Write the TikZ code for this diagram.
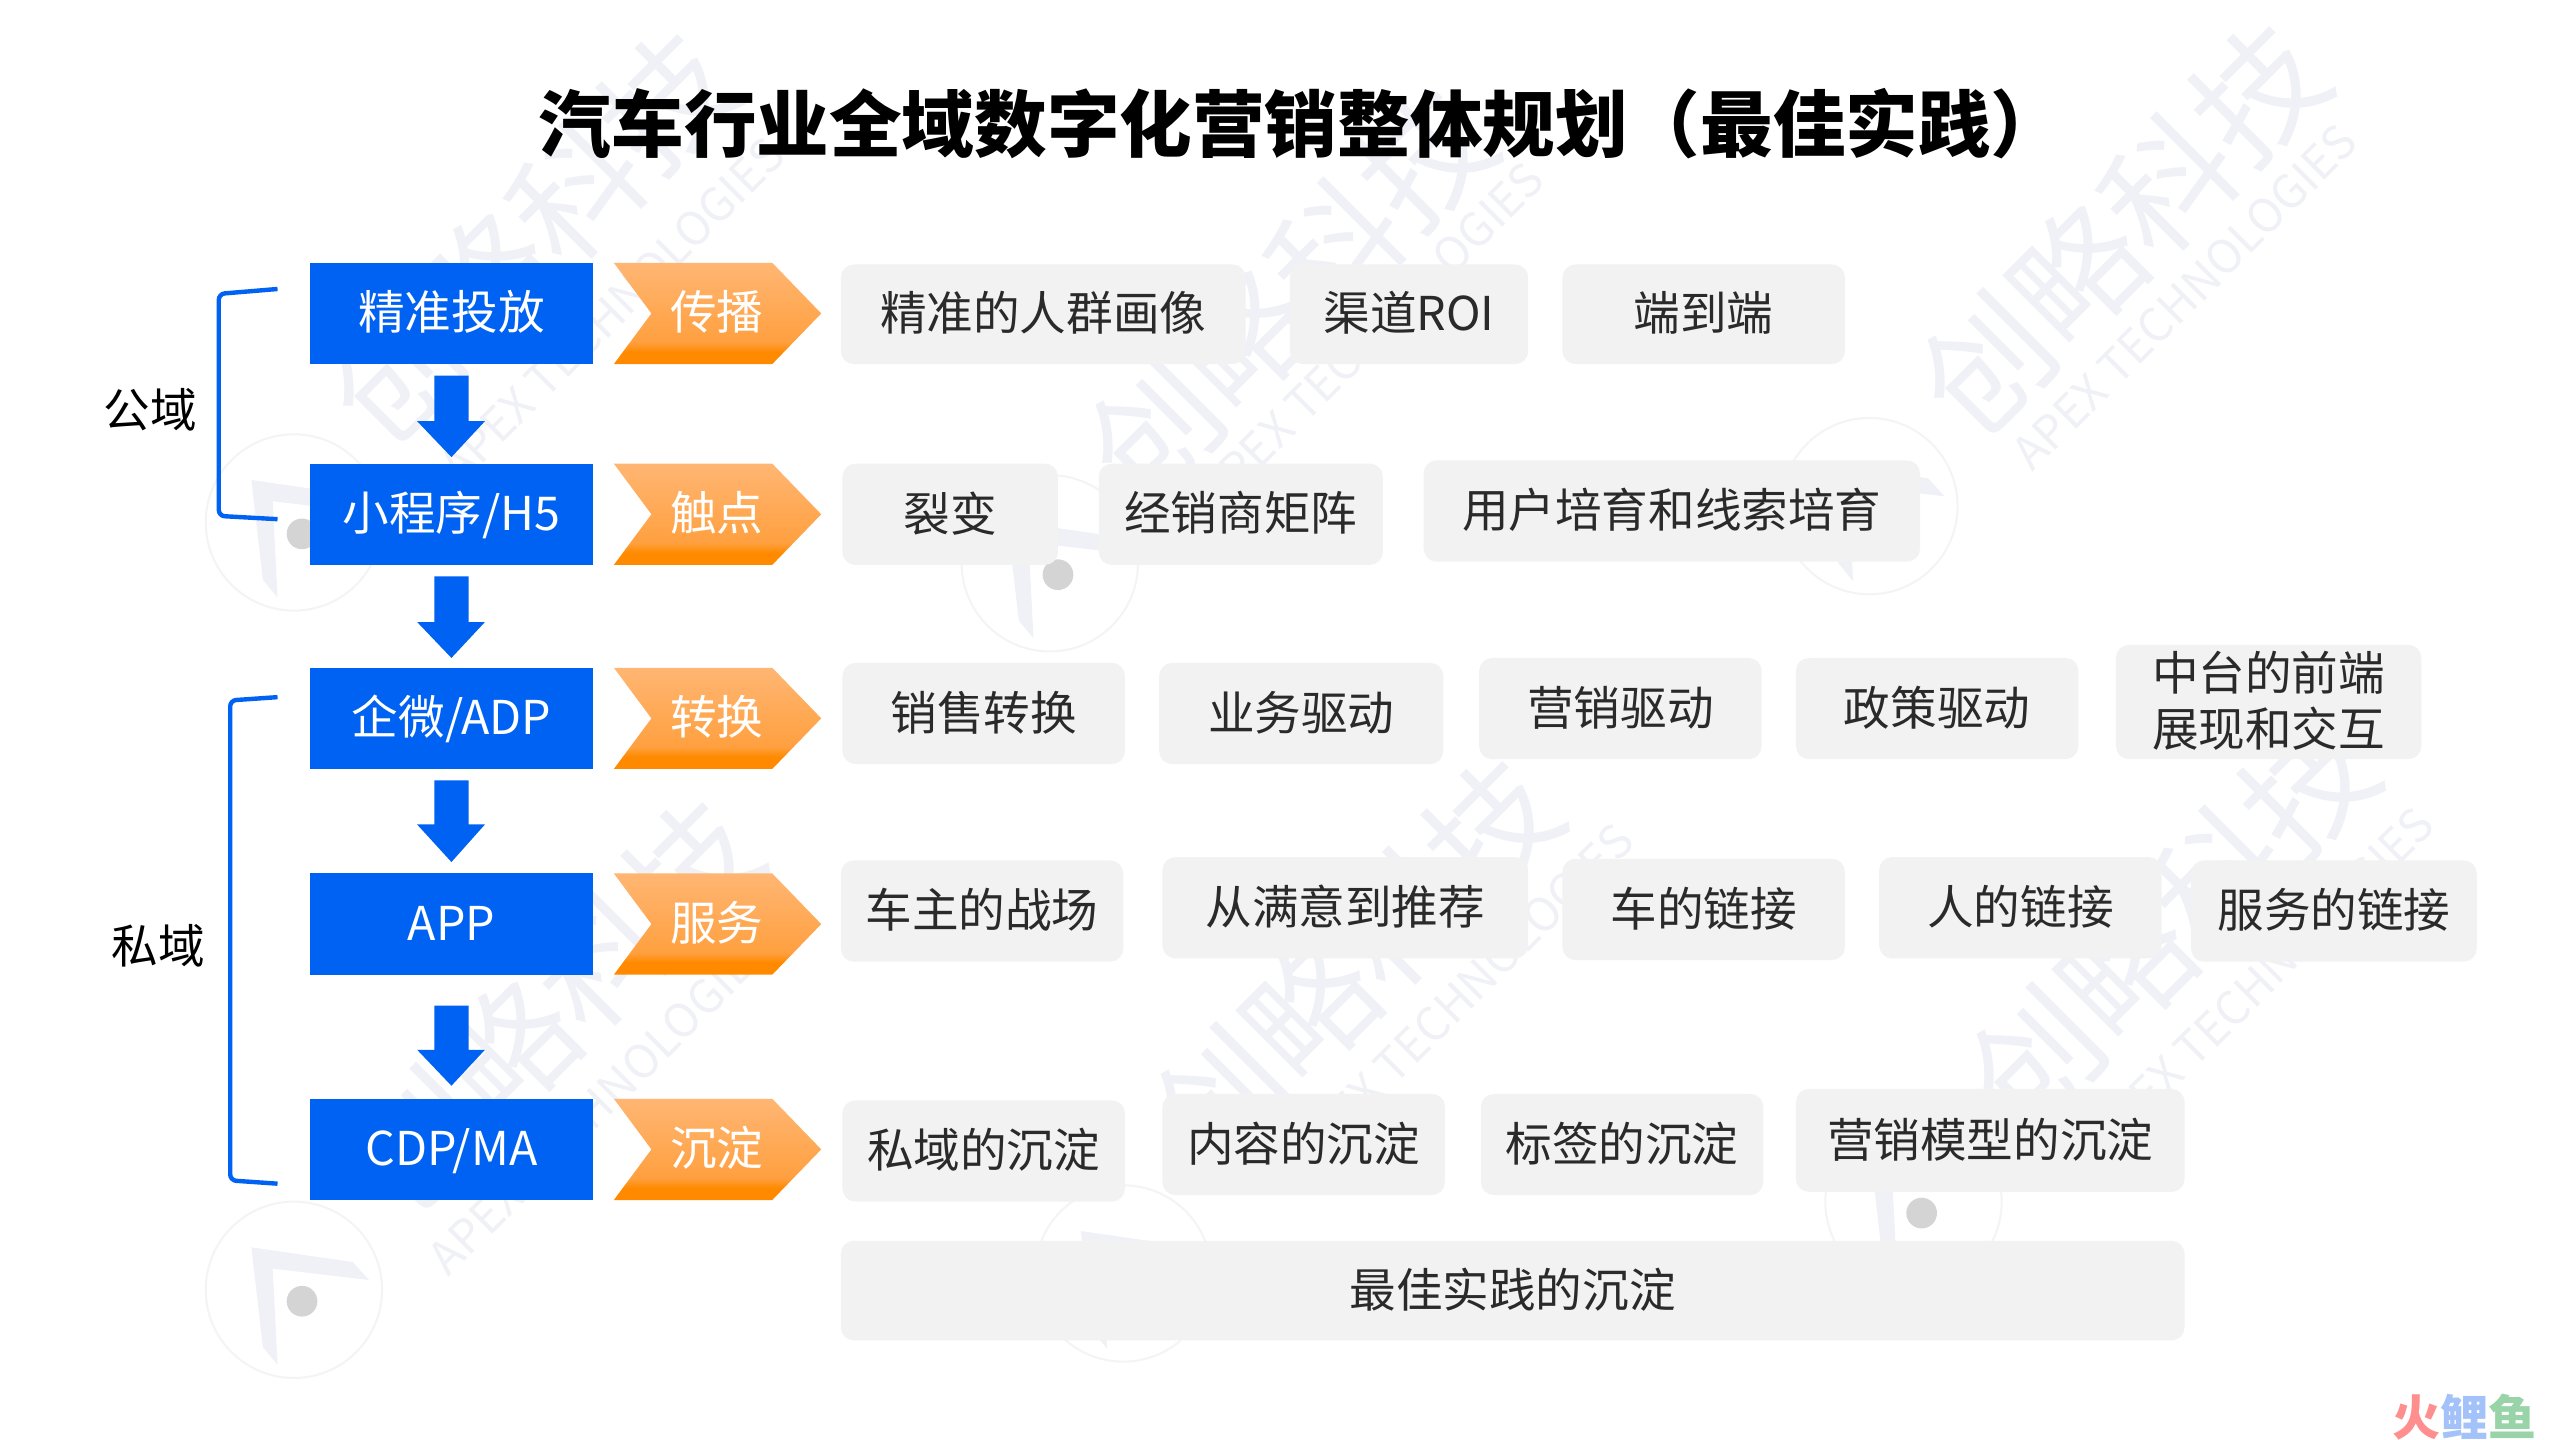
\documentclass[tikz,border=0pt]{standalone}
\usepackage{fontspec}
\setmainfont{Noto Sans CJK SC}
\definecolor{bluebox}{HTML}{0062F2}
\definecolor{chip}{HTML}{F2F2F3}
\definecolor{ink}{HTML}{2A2A2A}
\definecolor{wm}{HTML}{F0F1F6}
\definecolor{wmc}{HTML}{F4F4F4}
\definecolor{orangetop}{HTML}{FFB673}
\definecolor{orangemid}{HTML}{FFA040}
\definecolor{orangebot}{HTML}{FF8A00}
\pgfdeclareverticalshading{chevshade}{100bp}{color(0bp)=(orangebot); color(25bp)=(orangebot); color(31bp)=(orangebot); color(36bp)=(orangemid); color(75bp)=(orangetop); color(100bp)=(orangetop)}
\tikzset{
 x=0.81633pt,y=-0.81633pt,
 bluefill/.style={fill=bluebox,draw=none},
 lab/.style={font=\fontsize{23.3}{28}\selectfont,text=white,inner sep=0,anchor=base},
 chiptxt/.style={font=\fontsize{23.3}{28}\selectfont,text=ink,inner sep=0,align=center},
 brk/.style={draw=bluebox,line width=2.2pt,rounded corners=3pt},
 wmbig/.style={font=\fontsize{64}{70}\selectfont,text=wm,inner sep=0,rotate=45},
 wmsm/.style={font=\fontsize{23}{26}\selectfont,text=wm,inner sep=0,rotate=45},
}
\newcommand{\chipbox}[6]{%
 \fill[chip,rounded corners=6.5pt] (#2,#3) rectangle (#4,#5);
 \node[chiptxt] (#1) at ({(#2+#4)/2},{(#3+#5)/2-0.7}) {#6};}
\newcommand{\rowitem}[4]{%
 \fill[bluefill] (190,#2) rectangle (363,#2+62);
 \node[lab] (b#1) at (276.5,#2+41) {#3};
 \shade[shading=chevshade]
  (376,#2) -- (473,#2) -- (503,#2+31) -- (473,#2+62) -- (376,#2+62) -- (399,#2+31) -- cycle;
 \node[lab] (c#1) at (439,#2+41) {#4};}
\newcommand{\flowarrow}[3]{%
 \fill[bluefill] (266,#1) -- (287,#1) -- (287,#2) -- (297,#2) -- (276.5,#3) -- (255.5,#2) -- (266,#2) -- cycle;}
\newcommand{\wmark}[5]{%
 \node[wmbig] (wa#1) at (#2,#3) {创略科技};
 \node[wmsm] (wb#1) at (#4,#5) {APEX TECHNOLOGIES};}
\newcommand{\wmlogo}[3]{%
 \draw[wmc,line width=1pt] (#2,#3) circle[radius=54];
 \fill[wm] (#2-26,#3-26) -- (#2+36,#3-17) -- (#2+46,#3-6) -- (#2-13,#3-13) -- (#2-10,#3+46) -- (#2-19,#3+35) -- cycle;
 \fill[black!17] (#2+5,#3+7) circle[radius=9.4];
 \coordinate (lg#1) at (#2,#3);}
\begin{document}
\begin{tikzpicture}
\useasboundingbox (0,0) rectangle (1568,882);
\fill[white] (0,0) rectangle (1568,882);
% watermarks
\wmark{1}{1300}{140}{1338}{182}
\wmark{2}{790}{180}{840}{205}
\wmark{3}{325}{145}{375}{190}
\wmark{4}{830}{590}{895}{610}
\wmark{5}{340}{615}{368}{675}
\wmark{6}{1330}{565}{1385}{600}
\wmlogo{1}{180}{320}
\wmlogo{2}{643}{345}
\wmlogo{3}{1145}{310}
\wmlogo{4}{180}{790}
\wmlogo{5}{688}{780}
\wmlogo{6}{1172}{736}
% title
\node[inner sep=0,font=\fontsize{36.3}{40}\bfseries\selectfont,text=black] (title) at (797,76) {汽车行业全域数字化营销整体规划（最佳实践）};
% brackets
\coordinate (a1) at (170,177); \coordinate (a2) at (134,180); \coordinate (a3) at (134,316); \coordinate (a4) at (170,318);
\draw[brk] (a1) -- (a2) -- (a3) -- (a4);
\coordinate (p1) at (170,427); \coordinate (p2) at (141,429); \coordinate (p3) at (141,723); \coordinate (p4) at (170,725);
\draw[brk] (p1) -- (p2) -- (p3) -- (p4);
\node[chiptxt,text=black] (gong) at (92,251) {公域};
\node[chiptxt,text=black] (si) at (97,579) {私域};
% rows
\rowitem{1}{161}{精准投放}{传播}
\rowitem{2}{284}{小程序/H5}{触点}
\rowitem{3}{409}{企微/ADP}{转换}
\rowitem{4}{535}{APP}{服务}
\rowitem{5}{673}{CDP/MA}{沉淀}
\flowarrow{230}{258}{280}
\flowarrow{353}{381}{403}
\flowarrow{478}{505}{528}
\flowarrow{616}{643}{665}
% chips
\chipbox{a}{515}{162}{763}{223}{精准的人群画像}
\chipbox{b}{790}{162}{936}{223}{渠道ROI}
\chipbox{c}{957}{162}{1130}{223}{端到端}
\chipbox{d}{516}{284}{648}{346}{裂变}
\chipbox{e}{673}{284}{847}{346}{经销商矩阵}
\chipbox{f}{872}{282}{1176}{344}{用户培育和线索培育}
\chipbox{g}{516}{406}{689}{468}{销售转换}
\chipbox{h}{710}{406}{884}{468}{业务驱动}
\chipbox{i}{906}{403}{1079}{465}{营销驱动}
\chipbox{j}{1100}{403}{1273}{465}{政策驱动}
\chipbox{k}{1296}{395}{1483}{465}{中台的前端\\展现和交互}
\chipbox{l}{515}{527}{688}{589}{车主的战场}
\chipbox{m}{712}{525}{936}{587}{从满意到推荐}
\chipbox{n}{957}{526}{1130}{588}{车的链接}
\chipbox{o}{1151}{525}{1324}{587}{人的链接}
\chipbox{q}{1342}{527}{1517}{589}{服务的链接}
\chipbox{r}{516}{674}{689}{736}{私域的沉淀}
\chipbox{s}{712}{670}{885}{732}{内容的沉淀}
\chipbox{t}{907}{670}{1080}{732}{标签的沉淀}
\chipbox{u}{1100}{667}{1338}{730}{营销模型的沉淀}
\chipbox{v}{515}{760}{1338}{821}{最佳实践的沉淀}
% corner mark
\node[inner sep=0,font=\fontsize{24}{26}\bfseries\selectfont,anchor=east] (mark) at (1554,868) {\textcolor[HTML]{FF8E8E}{火}\textcolor[HTML]{A4C2FA}{鲤}\textcolor[HTML]{98D4A8}{鱼}};
\end{tikzpicture}
\end{document}
